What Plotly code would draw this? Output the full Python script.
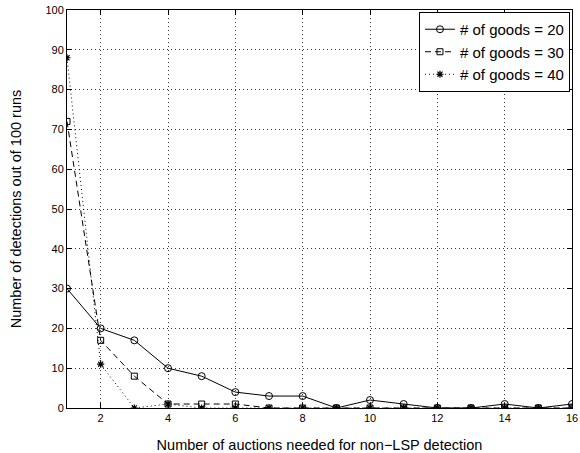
import plotly.graph_objects as go

x_vals = list(range(1, 17))
goods20 = [30, 20, 17, 10, 8, 4, 3, 3, 0, 2, 1, 0, 0, 1, 0, 1]
goods30 = [72, 17, 8, 1, 1, 1, 0, 0, 0, 0, 0, 0, 0, 0, 0, 0]
goods40 = [88, 11, 0, 1, 0, 0, 0, 0, 0, 0, 0, 0, 0, 0, 0, 0]
x_ticks = [2, 4, 6, 8, 10, 12, 14, 16]
y_ticks = [0, 10, 20, 30, 40, 50, 60, 70, 80, 90, 100]

fig = go.Figure()
fig.add_trace(go.Scatter(x=x_vals, y=goods20, mode="lines+markers", name="# of goods = 20",
                         line=dict(color="black", width=1, dash="solid"),
                         marker=dict(symbol="circle-open", size=7, color="black", line=dict(width=1))))
fig.add_trace(go.Scatter(x=x_vals, y=goods30, mode="lines+markers", name="# of goods = 30",
                         line=dict(color="black", width=1, dash="6px,4px"),
                         marker=dict(symbol="square-open", size=6, color="black", line=dict(width=1))))
fig.add_trace(go.Scatter(x=x_vals, y=goods40, mode="lines+markers", name="# of goods = 40",
                         line=dict(color="black", width=1, dash="1px,3px"),
                         marker=dict(symbol="asterisk-open", size=6, color="black", line=dict(width=1.2))))

axis_common = dict(showline=True, linecolor="black", linewidth=1, mirror="ticks",
                   ticks="inside", ticklen=5, tickcolor="black",
                   showgrid=True, gridcolor="#333333", griddash="1px,3px", gridwidth=1,
                   zeroline=False, tickfont=dict(size=11, color="black"),
                   automargin=False)

fig.update_xaxes(range=[1, 16], tickvals=x_ticks,
                 title=dict(text="Number of auctions needed for non\u2212LSP detection",
                            font=dict(size=14.5, color="black"), standoff=17),
                 **axis_common)
fig.update_yaxes(range=[0, 100], tickvals=y_ticks,
                 title=dict(text="Number of detections out of 100 runs",
                            font=dict(size=14.5, color="black"), standoff=20),
                 **axis_common)

fig.update_layout(
    width=580, height=453,
    margin=dict(l=67, r=8, t=10, b=45),
    paper_bgcolor="white", plot_bgcolor="white",
    font=dict(family="Liberation Sans, Arial, sans-serif", color="black"),
    legend=dict(x=0.996, y=0.995, xanchor="right", yanchor="top",
                bgcolor="white", bordercolor="black", borderwidth=1,
                font=dict(size=15, color="black"), tracegroupgap=0, itemwidth=30),
    showlegend=True,
)

fig.write_html("out.html", config={"displayModeBar": False},
               post_script="document.body.style.margin='0';")
